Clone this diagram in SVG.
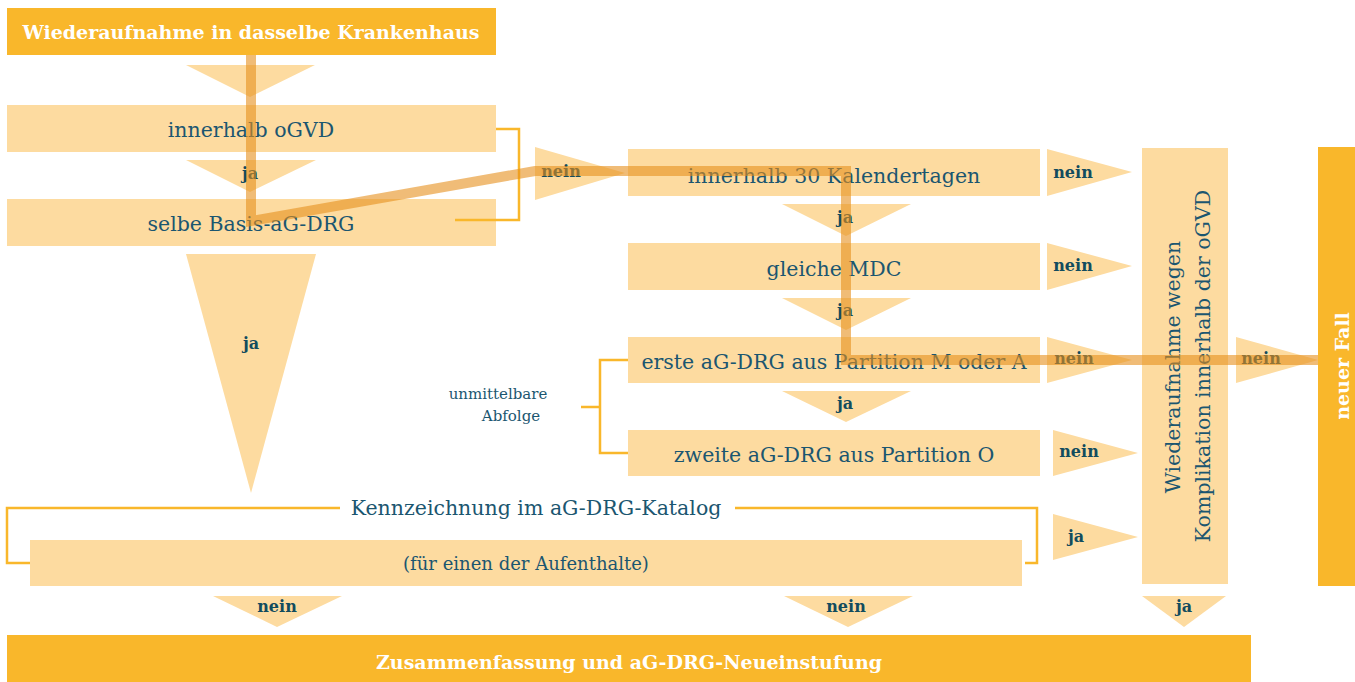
<svg xmlns="http://www.w3.org/2000/svg" width="1355" height="682" viewBox="0 0 1355 682">
<style>
.hd{fill:#F9B72B}
.lt{fill:#FDDBA0}
.t{font-family:"DejaVu Serif","Liberation Serif",serif;font-size:20.5px;fill:#1B5670;text-anchor:middle}
.s{font-size:15px}
.f{font-size:18px}
.w{font-family:"DejaVu Serif","Liberation Serif",serif;font-size:19px;font-weight:bold;fill:#FFFFFF;text-anchor:middle}
.b{font-family:"DejaVu Serif","Liberation Serif",serif;font-size:16px;font-weight:bold;fill:#124C5E;text-anchor:middle}
.br{fill:none;stroke:#F9B72B;stroke-width:2.5}
.pth{fill:none;stroke:#E6901C;stroke-opacity:0.6;stroke-width:10;stroke-linejoin:miter}
</style>
<rect width="1355" height="682" fill="#FFFFFF"/>

<g id="start"><rect class="hd" x="7" y="8" width="489" height="47"/><text class="w" x="251" y="39">Wiederaufnahme in dasselbe Krankenhaus</text></g>
<g id="arr0"><polygon class="lt" points="186,65 315,65 250,97"/></g>
<g id="n1"><rect class="lt" x="7" y="105" width="489" height="47"/><text class="t" x="251" y="137">innerhalb oGVD</text></g>
<g id="arr1"><polygon class="lt" points="186,160 316,160 250,192"/><text class="b" x="250" y="179">ja</text></g>
<g id="n2"><rect class="lt" x="7" y="199" width="489" height="47"/><text class="t" x="251" y="231">selbe Basis-aG-DRG</text></g>
<g id="arr2"><polygon class="lt" points="186,254 316,254 251,493"/><text class="b" x="251" y="349">ja</text></g>
<g id="arr3"><polygon class="lt" points="535,147 535,200 625,173"/><text class="b" x="561" y="177">nein</text></g>

<g id="n3"><rect class="lt" x="628" y="149" width="412" height="47"/><text class="t" x="834" y="183">innerhalb 30 Kalendertagen</text></g>
<g id="a3r"><polygon class="lt" points="1047,149 1047,196 1132,172"/><text class="b" x="1073" y="178">nein</text></g>
<g id="a3d"><polygon class="lt" points="782,204 911,204 846,236"/><text class="b" x="845" y="223">ja</text></g>
<g id="n4"><rect class="lt" x="628" y="243" width="412" height="47"/><text class="t" x="834" y="276">gleiche MDC</text></g>
<g id="a4r"><polygon class="lt" points="1047,243 1047,290 1132,266"/><text class="b" x="1073" y="271">nein</text></g>
<g id="a4d"><polygon class="lt" points="782,298 911,298 846,330"/><text class="b" x="845" y="316">ja</text></g>
<g id="n5"><rect class="lt" x="628" y="337" width="412" height="46"/><text class="t" x="834" y="369">erste aG-DRG aus Partition M oder A</text></g>
<g id="a5r"><polygon class="lt" points="1047,337 1047,383 1132,360"/><text class="b" x="1074" y="364">nein</text></g>
<g id="a5d"><polygon class="lt" points="782,391 911,391 846,422"/><text class="b" x="845" y="409">ja</text></g>
<g id="n6"><rect class="lt" x="628" y="430" width="412" height="46"/><text class="t" x="834" y="462">zweite aG-DRG aus Partition O</text></g>
<g id="a6r"><polygon class="lt" points="1053,430 1053,476 1138,453"/><text class="b" x="1079" y="457">nein</text></g>

<g id="abfolge"><path class="br" d="M581,407 H600 M628,360 H600 V453 H628"/><text class="t s" x="498" y="399">unmittelbare</text><text class="t s" x="511" y="421">Abfolge</text></g>

<g id="kompl"><rect class="lt" x="1142" y="148" width="86" height="436"/><text class="t" transform="translate(1180,367) rotate(-90)">Wiederaufnahme wegen</text><text class="t" transform="translate(1210,366) rotate(-90)">Komplikation innerhalb der oGVD</text></g>
<g id="a7r"><polygon class="lt" points="1236,337 1236,383 1318,360"/><text class="b" x="1261" y="364">nein</text></g>
<g id="neu"><rect class="hd" x="1318" y="147" width="37" height="439"/><text class="w" transform="translate(1349,366) rotate(-90)">neuer Fall</text></g>

<g id="katalog"><path class="br" d="M340,508 H7 V563 H30 M735,508 H1037 V563 H1025"/><text class="t" x="536" y="515">Kennzeichnung im aG-DRG-Katalog</text><rect class="lt" x="30" y="540" width="992" height="46"/><text class="t f" x="526" y="570">(für einen der Aufenthalte)</text></g>
<g id="a8r"><polygon class="lt" points="1053,514 1053,560 1138,537"/><text class="b" x="1076" y="542">ja</text></g>

<g id="d1"><polygon class="lt" points="213,596 342,596 277,627"/><text class="b" x="277" y="612">nein</text></g>
<g id="d2"><polygon class="lt" points="784,596 913,596 848,627"/><text class="b" x="846" y="612">nein</text></g>
<g id="d3"><polygon class="lt" points="1142,596 1226,596 1184,627"/><text class="b" x="1184" y="612">ja</text></g>
<g id="end"><rect class="hd" x="7" y="635" width="1244" height="47"/><text class="w" x="629" y="669">Zusammenfassung und aG-DRG-Neueinstufung</text></g>

<g id="connectors">
<path class="br" d="M496,129 H519 V220 H455"/>
<path class="pth" d="M251,55 V221 L535,171 H846 V360 H1318"/>
</g>
</svg>
